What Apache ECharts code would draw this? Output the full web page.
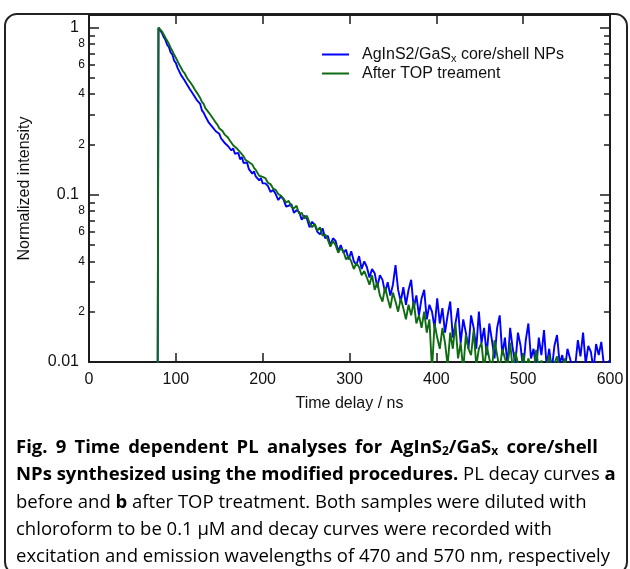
<!DOCTYPE html>
<html><head><meta charset="utf-8">
<script src="https://cdn.jsdelivr.net/npm/echarts@6/dist/echarts.min.js"></script>
<style>html,body{margin:0;padding:0;background:#fff}#c{width:630px;height:569px}</style>
</head><body><div id="c"></div>
<script>
// ---------------- data ----------------
const times = [79,
  80,82,84,86,88,90,92,94,96,98,
  100,102,104,106,108,110,112,114,116,118,
  120,122,124,126,128,130,132,134,136,138,
  140,142,144,146,148,150,152,154,156,158,
  160,162,164,166,168,170,172,174,176,178,
  180,182,184,186,188,190,192,194,196,198,200,
  203,206,209,212,215,218,221,224,227,230,
  233,236,239,242,245,248,251,254,257,260,
  263,266,269,272,275,278,281,284,287,290,
  293,296,299,302,305,308,311,314,317,320,
  323,326,329,332,335,338,341,344,347,350,
  353,356,359,362,365,368,371,374,377,380,
  383,386,389,392,395,398,401,404,407,410,
  413,416,419,422,425,428,431,434,437,440,
  443,446,449,452,455,458,461,464,467,470,
  473,476,479,482,485,488,491,494,497,500,
  503,506,509,512,515,518,521,524,527,530,
  533,536,539,542,545,548,551,554,557,560,
  563,566,569,572,575,578,581,584,587,590,
  593,596,599];

const blueValues = [0.005,
  1.0,0.98,0.93,0.88,0.845,0.79,0.765,0.71,0.69,0.635,
  0.615,0.575,0.565,0.52,0.515,0.485,0.465,0.46,0.43,0.425,
  0.40,0.405,0.37,0.36,0.35,0.32,0.31,0.295,0.30,0.27,
  0.275,0.255,0.258,0.24,0.236,0.232,0.218,0.222,0.205,0.21,
  0.196,0.198,0.184,0.19,0.176,0.174,0.178,0.163,0.168,0.155,
  0.152,0.156,0.143,0.146,0.134,0.138,0.129,0.131,0.122,0.126,0.117,
  0.117,0.113,0.104,0.107,0.101,0.093,0.098,0.094,0.085,0.086,
  0.088,0.078,0.081,0.079,0.071,0.075,0.072,0.064,0.069,0.066,
  0.06,0.058,0.063,0.055,0.057,0.05,0.055,0.053,0.046,0.05,
  0.045,0.047,0.041,0.046,0.04,0.038,0.043,0.036,0.04,0.037,
  0.032,0.036,0.034,0.028,0.033,0.031,0.026,0.03,0.025,0.029,
  0.038,0.027,0.023,0.028,0.022,0.027,0.031,0.021,0.025,0.019,
  0.024,0.027,0.018,0.022,0.02,0.016,0.024,0.017,0.021,0.015,
  0.019,0.023,0.014,0.017,0.021,0.013,0.018,0.015,0.012,0.019,
  0.016,0.012,0.02,0.013,0.016,0.011,0.017,0.0135,0.0105,0.016,
  0.019,0.011,0.014,0.0095,0.016,0.012,0.0098,0.015,0.0125,0.009,
  0.0135,0.017,0.0105,0.012,0.009,0.014,0.011,0.0155,0.0095,0.012,
  0.009,0.0125,0.0145,0.0098,0.011,0.009,0.012,0.0105,0.009,0.0095,
  0.0135,0.0108,0.015,0.0098,0.0125,0.0115,0.009,0.0128,0.011,0.0132,
  0.0095,0.009,0.0102];

const greenValues = [0.005,
  1.0,0.99,0.95,0.91,0.87,0.835,0.80,0.76,0.725,0.69,
  0.66,0.63,0.60,0.575,0.55,0.535,0.51,0.49,0.475,0.46,
  0.443,0.425,0.41,0.395,0.38,0.36,0.35,0.33,0.325,0.31,
  0.30,0.295,0.28,0.27,0.262,0.25,0.245,0.24,0.23,0.23,
  0.22,0.212,0.207,0.198,0.196,0.19,0.188,0.18,0.175,0.17,
  0.162,0.161,0.157,0.153,0.152,0.145,0.141,0.138,0.13,0.131,0.128,
  0.126,0.118,0.116,0.109,0.107,0.101,0.099,0.095,0.09,0.092,
  0.085,0.083,0.086,0.077,0.078,0.072,0.075,0.068,0.064,0.067,
  0.061,0.064,0.057,0.058,0.054,0.049,0.053,0.05,0.045,0.048,
  0.046,0.041,0.043,0.04,0.036,0.039,0.037,0.033,0.035,0.032,
  0.029,0.033,0.027,0.03,0.025,0.023,0.028,0.024,0.021,0.026,
  0.023,0.02,0.024,0.021,0.018,0.022,0.019,0.023,0.017,0.019,
  0.016,0.02,0.015,0.018,0.009,0.017,0.014,0.012,0.016,0.013,
  0.0095,0.015,0.012,0.017,0.0105,0.013,0.009,0.0145,0.012,0.011,
  0.0155,0.0095,0.012,0.013,0.009,0.0125,0.0105,0.009,0.0135,0.011,
  0.009,0.012,0.0105,0.0095,0.013,0.009,0.0115,0.0098,0.009,0.0112,
  0.009,0.0105,0.0095,0.009,0.0118,0.009,0.0102,0.009,0.0095,0.011,
  0.009,0.0098,0.0108,0.009,0.009,0.0105,0.009,0.0092,0.009,0.009,
  0.009,0.009,0.009,0.009,0.009,0.009,0.009,0.009,0.009,0.009,
  0.009,0.009,0.009];

const seriesNames = ['AgInS2/GaSx core/shell NPs', 'After TOP treament'];
const xTickValues = [0, 100, 200, 300, 400, 500, 600];
const yMajorTicks = [0.01, 0.1, 1];
const yMinorTicks = [0.02,0.03,0.04,0.05,0.06,0.07,0.08,0.09,0.2,0.3,0.4,0.5,0.6,0.7,0.8,0.9];
const yMinorLabels = [0.02,0.04,0.06,0.08,0.2,0.4,0.6,0.8];
const yMin = 0.01, yMax = 1.19;

// ---------------- chart ----------------
const LOG = v => Math.log10(v);
const AX = '#1c1c1c';
const TXT = '#111';
const FONT = 'Liberation Sans, Arial, sans-serif';
const CAP = '#231f20';

function pair(vals) {
  const n = Math.min(times.length, vals.length);
  const out = [];
  for (let i = 0; i < n; i++) out.push([times[i], vals[i]]);
  return out;
}

const valueAxisBase = {
  type: 'value', min: LOG(yMin), max: LOG(yMax),
  splitLine: {show: false}, axisLine: {show: false, onZero: false}
};
const majorFmt = v => String(+Math.pow(10, v).toPrecision(3));
const minorFmt = v => String(Math.round(Math.pow(10, v - Math.floor(v + 1e-9))));

const yAxes = [
  {type: 'log', logBase: 10, min: yMin, max: yMax, position: 'left',
   axisLine: {show: true, onZero: false, lineStyle: {color: AX, width: 2}},
   axisTick: {show: false}, axisLabel: {show: false}, splitLine: {show: false},
   name: 'Normalized intensity', nameLocation: 'middle', nameGap: 56,
   nameTextStyle: {fontSize: 16, color: TXT, fontFamily: FONT}},
  Object.assign({}, valueAxisBase, {position: 'left',
   axisTick: {show: true, inside: true, length: 10, customValues: yMajorTicks.map(LOG), lineStyle: {color: AX, width: 1.5}},
   axisLabel: {show: true, customValues: yMajorTicks.map(LOG), formatter: majorFmt, fontSize: 16, margin: 10, color: TXT, fontFamily: FONT}}),
  Object.assign({}, valueAxisBase, {position: 'left',
   axisTick: {show: true, inside: true, length: 6, customValues: yMinorTicks.map(LOG), lineStyle: {color: AX, width: 1.5}},
   axisLabel: {show: true, customValues: yMinorLabels.map(LOG), formatter: minorFmt, fontSize: 12, margin: 4, color: TXT, fontFamily: FONT}}),
  Object.assign({}, valueAxisBase, {position: 'right',
   axisLine: {show: true, onZero: false, lineStyle: {color: AX, width: 2}},
   axisTick: {show: true, inside: true, length: 10, customValues: yMajorTicks.map(LOG), lineStyle: {color: AX, width: 1.5}},
   axisLabel: {show: false}}),
  Object.assign({}, valueAxisBase, {position: 'right',
   axisTick: {show: true, inside: true, length: 6, customValues: yMinorTicks.map(LOG), lineStyle: {color: AX, width: 1.5}},
   axisLabel: {show: false}})
];

const xAxes = [
  {type: 'value', min: 0, max: 600, interval: 100, position: 'bottom',
   axisLine: {show: true, onZero: false, lineStyle: {color: AX, width: 2}},
   axisTick: {show: true, inside: true, length: 9, customValues: xTickValues, lineStyle: {color: AX, width: 1.5}},
   axisLabel: {show: true, customValues: xTickValues, fontSize: 16, margin: 10, color: TXT, fontFamily: FONT},
   splitLine: {show: false},
   name: 'Time delay / ns', nameLocation: 'middle', nameGap: 34,
   nameTextStyle: {fontSize: 16, color: TXT, fontFamily: FONT}},
  {type: 'value', min: 0, max: 600, interval: 100, position: 'top',
   axisLine: {show: true, onZero: false, lineStyle: {color: AX, width: 2}},
   axisTick: {show: true, inside: true, length: 9, customValues: xTickValues, lineStyle: {color: AX, width: 1.5}},
   axisLabel: {show: false}, splitLine: {show: false}}
];

const capRich = {
  b: {fontFamily: 'Open Sans', fontWeight: 'bold', fontSize: 18.5, color: CAP},
  r: {fontFamily: 'Open Sans', fontWeight: 'normal', fontSize: 18.5, color: CAP},
  bs: {fontFamily: 'Open Sans', fontWeight: 'bold', fontSize: 12, color: CAP, verticalAlign: 'bottom'},
  sp: {fontFamily: 'Open Sans', fontWeight: 'bold', fontSize: 18.5, color: CAP, width: 8.2}
};
function capText(y, text) {
  return {type: 'text', x: 16, y: y, silent: true,
    style: {text: text, verticalAlign: 'middle', align: 'left', rich: capRich}};
}
const line1 = ['{b|Fig.}', '{b|9}', '{b|Time}', '{b|dependent}', '{b|PL}', '{b|analyses}', '{b|for}',
  '{b|AgInS}{bs|2}{b|/GaS}{bs|x}', '{b|core/shell}'].join('{sp| }');

const chart = echarts.init(document.getElementById('c'), null, {renderer: 'canvas'});
chart.setOption({
  animation: false,
  backgroundColor: '#fff',
  grid: {left: 89, right: 20, top: 15, bottom: 207, containLabel: false, outerBoundsMode: 'none'},
  xAxis: xAxes,
  yAxis: yAxes,
  legend: {
    orient: 'vertical', left: 317, top: 40, itemWidth: 27, itemHeight: 2, itemGap: 0,
    icon: 'rect', selectedMode: false, data: seriesNames,
    formatter: n => n === seriesNames[0] ? 'AgInS2/GaS{sub|x} core/shell NPs' : n,
    textStyle: {fontSize: 16, color: TXT, fontFamily: FONT, lineHeight: 19, padding: [0, 0, 0, 8],
      rich: {sub: {fontSize: 11, color: TXT, fontFamily: FONT, verticalAlign: 'bottom', lineHeight: 13}}}
  },
  series: [
    {type: 'line', name: seriesNames[0], xAxisIndex: 0, yAxisIndex: 0, data: pair(blueValues),
     symbol: 'none', clip: true, lineStyle: {color: '#0000ff', width: 1.9}, itemStyle: {color: '#0000ff'}},
    {type: 'line', name: seriesNames[1], xAxisIndex: 0, yAxisIndex: 0, data: pair(greenValues),
     symbol: 'none', clip: true, lineStyle: {color: '#0f6b12', width: 1.9}, itemStyle: {color: '#0f6b12'}}
  ],
  graphic: [
    {type: 'rect', silent: true, shape: {x: 5, y: 14, width: 622, height: 560, r: 12},
     style: {fill: 'none', stroke: '#222', lineWidth: 2}},
    capText(448, line1),
    capText(475, '{b|NPs synthesized using the modified procedures.}{r| PL decay curves }{b|a}'),
    capText(503, '{r|before and }{b|b}{r| after TOP treatment. Both samples were diluted with}'),
    capText(530, '{r|chloroform to be 0.1 μM and decay curves were recorded with}'),
    capText(557, '{r|excitation and emission wavelengths of 470 and 570 nm, respectively}')
  ]
});
</script>
</body></html>
